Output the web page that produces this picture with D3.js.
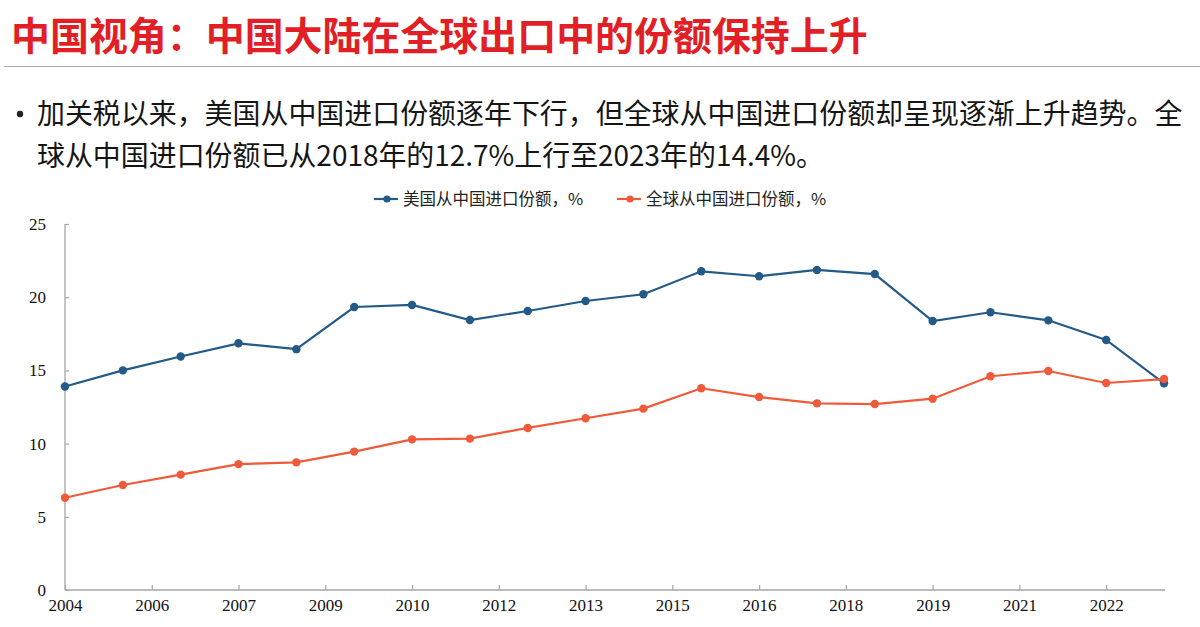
<!DOCTYPE html>
<html>
<head>
<meta charset="utf-8">
<script src="https://cdn.jsdelivr.net/npm/d3@7"></script>
<style>
  body { margin: 0; background: #fff; }
  svg { display: block; }
</style>
</head>
<body>
<script>
// years 2004-2023, one point per year
let years = d3.range(2004, 2024);
let usShare = [13.9, 15.0, 15.95, 16.85, 16.45, 19.33, 19.47, 18.44, 19.06, 19.74,
               20.2, 21.77, 21.43, 21.86, 21.58, 18.37, 18.97, 18.42, 17.08, 14.12];
let worldShare = [6.3, 7.17, 7.88, 8.6, 8.72, 9.45, 10.29, 10.34, 11.07, 11.73,
                  12.39, 13.78, 13.18, 12.75, 12.7, 13.07, 14.6, 14.96, 14.14, 14.41];
// the x axis labels as printed on the source (every 1.5 points)
let xTickLabels = ["2004", "2006", "2007", "2009", "2010", "2012", "2013",
                   "2015", "2016", "2018", "2019", "2021", "2022"];
let yTicks = [0, 5, 10, 15, 20, 25];
let seriesNames = ["美国从中国进口份额，%", "全球从中国进口份额，%"];
let seriesColors = ["#245a87", "#ef5a3a"];

let width = 1200, height = 627;
let margin = {top: 224, bottom: 37, left: 65, right: 36};

let svg = d3.select("body")
  .append("svg")
  .attr("width", width)
  .attr("height", height);

// shrink/grow a text's font so it spans the given width
function fitWidth(sel, target, base) {
  let w = sel.node().getComputedTextLength();
  sel.style("font-size", (base * target / w).toFixed(2) + "px");
  return base * target / w;
}

// title
let title = svg.append("text")
  .attr("x", 11)
  .attr("y", 50)
  .style("font-family", "'Noto Sans CJK SC', sans-serif")
  .style("font-weight", "bold")
  .style("font-size", "38px")
  .style("fill", "#e21f26")
  .text("中国视角：中国大陆在全球出口中的份额保持上升");
fitWidth(title, 857, 38);

svg.append("line")
  .attr("x1", 4).attr("x2", width)
  .attr("y1", 66.5).attr("y2", 66.5)
  .style("stroke", "#a8a8a8")
  .style("stroke-width", 1.2);

// bullet text
let bodyFont = "'Noto Sans CJK SC', sans-serif";
svg.append("circle")
  .attr("cx", 20).attr("cy", 114).attr("r", 3.2)
  .style("fill", "#222");
let lines = ["加关税以来，美国从中国进口份额逐年下行，但全球从中国进口份额却呈现逐渐上升趋势。全",
             "球从中国进口份额已从2018年的12.7%上行至2023年的14.4%。"];
let body = svg.selectAll("text.body")
  .data(lines)
  .enter()
  .append("text")
    .attr("class", "body")
    .attr("x", 37)
    .attr("y", (d, i) => 124 + i * 42)
    .style("font-family", bodyFont)
    .style("font-size", "28px")
    .style("fill", "#151515")
    .text(d => d);
let bodySize = fitWidth(d3.select(body.nodes()[0]), 1146, 28);
body.style("font-size", bodySize.toFixed(2) + "px");

// scales
let xscale = d3.scaleLinear()
  .domain([0, years.length - 1])
  .range([margin.left, width - margin.right]);
let yscale = d3.scaleLinear()
  .domain([0, 25])
  .range([height - margin.bottom, margin.top]);

// axes
let xaxis = d3.axisBottom(xscale)
  .tickValues(d3.range(0, 18.01, 1.5))
  .tickFormat((d, i) => xTickLabels[i])
  .tickSize(-5)
  .tickPadding(9);
let gx = svg.append("g")
  .attr("transform", "translate(0," + yscale(0) + ")")
  .call(xaxis);

let yaxis = d3.axisLeft(yscale)
  .tickValues(yTicks)
  .tickSize(-4)
  .tickPadding(19);
let gy = svg.append("g")
  .attr("transform", "translate(" + margin.left + ",0)")
  .call(yaxis);

[gx, gy].forEach(g => {
  g.select(".domain").style("stroke", "#a6a6a6").style("stroke-width", 1.3);
  g.selectAll(".tick line").style("stroke", "#a6a6a6").style("stroke-width", 1.2);
  g.selectAll(".tick text")
    .style("font-family", "'Liberation Serif', serif")
    .style("font-size", "17px")
    .style("fill", "#111");
});
gx.select(".domain").attr("d", "M" + margin.left + ",0H" + (width - margin.right + 1));
gy.select(".domain").attr("d", "M0," + yscale(0) + "V" + yscale(25));

// lines and markers
let series = [usShare, worldShare];
let line = d3.line()
  .x((d, i) => xscale(i))
  .y(d => yscale(d));

series.forEach((s, k) => {
  svg.append("path")
    .datum(s)
    .attr("d", line)
    .style("fill", "none")
    .style("stroke", seriesColors[k])
    .style("stroke-width", 2.2);
  svg.selectAll("circle.s" + k)
    .data(s)
    .enter()
    .append("circle")
      .attr("class", "s" + k)
      .attr("cx", (d, i) => xscale(i))
      .attr("cy", d => yscale(d))
      .attr("r", 4.2)
      .style("fill", seriesColors[k]);
});

// legend
let legendX = [374, 617];
let legend = svg.selectAll("g.legend")
  .data(seriesNames)
  .enter()
  .append("g")
    .attr("class", "legend")
    .attr("transform", (d, i) => "translate(" + legendX[i] + ",199)");
legend.append("line")
  .attr("x1", 0).attr("x2", 24)
  .style("stroke", (d, i) => seriesColors[i])
  .style("stroke-width", 2.2);
legend.append("circle")
  .attr("cx", 13).attr("r", 3.6)
  .style("fill", (d, i) => seriesColors[i]);
legend.append("text")
  .attr("x", 29)
  .attr("y", 6)
  .style("font-family", bodyFont)
  .style("font-size", "16.5px")
  .style("fill", "#222")
  .text(d => d);
</script>
</body>
</html>
